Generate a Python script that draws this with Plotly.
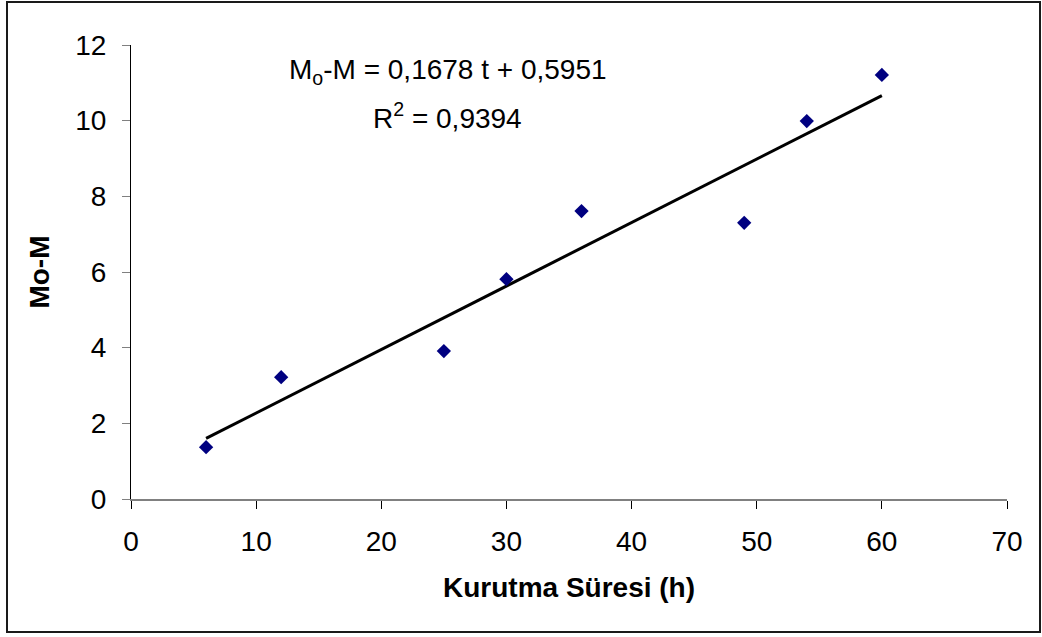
import plotly.graph_objects as go

# Data
time_h = [6, 12, 25, 30, 36, 49, 54, 60]
mo_minus_m = [1.37, 3.22, 3.91, 5.81, 7.61, 7.30, 9.99, 11.21]
slope = 0.1678
intercept = 0.5951
r_squared = 0.9394
x_ticks = [0, 10, 20, 30, 40, 50, 60, 70]
y_ticks = [0, 2, 4, 6, 8, 10, 12]

trend_x = [min(time_h), max(time_h)]
trend_y = [slope * x + intercept for x in trend_x]

FONT = "Liberation Sans, Arial, sans-serif"

fig = go.Figure()
fig.add_trace(go.Scatter(
    x=trend_x, y=trend_y, mode="lines",
    line=dict(color="black", width=3), showlegend=False, hoverinfo="skip"))
fig.add_trace(go.Scatter(
    x=time_h, y=mo_minus_m, mode="markers",
    marker=dict(symbol="diamond", size=11, color="#000080", line=dict(width=0)),
    showlegend=False))

fig.add_annotation(x=25.3, y=11.29, xref="x", yref="y",
                   text="M<sub>o</sub>-M = 0,1678 t + 0,5951",
                   showarrow=False, font=dict(family=FONT, size=28, color="black"))
fig.add_annotation(x=25.3, y=10.12, xref="x", yref="y",
                   text="R<sup>2</sup> = " + f"{r_squared}".replace(".", ","),
                   showarrow=False, font=dict(family=FONT, size=28, color="black"))

# outer border
L, R, T, B = 131, 1007, 45, 499
W, H = R - L, B - T
fig.add_shape(type="rect", xref="paper", yref="paper",
              x0=(7 - L) / W, x1=(1040 - L) / W,
              y0=(B - 632) / H, y1=(B - 2) / H,
              line=dict(color="#1a1a1a", width=2), fillcolor="rgba(0,0,0,0)")

fig.update_layout(
    width=1042, height=637,
    margin=dict(l=L, r=1042 - R, t=T, b=637 - B),
    paper_bgcolor="white", plot_bgcolor="white",
    font=dict(family=FONT, size=28, color="black"),
    xaxis=dict(range=[0, 70], tickvals=x_ticks, showgrid=False, zeroline=False,
               showline=True, linecolor="#808080", linewidth=2,
               ticks="outside", ticklen=8, tickcolor="black", tickwidth=1,
               ticklabelstandoff=8,
               title=dict(text="<b>Kurutma Süresi (h)</b>", font=dict(size=28), standoff=22)),
    yaxis=dict(range=[0, 12], tickvals=y_ticks, showgrid=False, zeroline=False,
               showline=True, linecolor="black", linewidth=1,
               ticks="outside", ticklen=8, tickcolor="#808080", tickwidth=1,
               ticklabelstandoff=10,
               title=dict(text="<b>Mo-M</b>", font=dict(size=28), standoff=17)),
)

fig.write_html("out.html", config={"displayModeBar": False},
               post_script="document.body.style.margin='0';")
